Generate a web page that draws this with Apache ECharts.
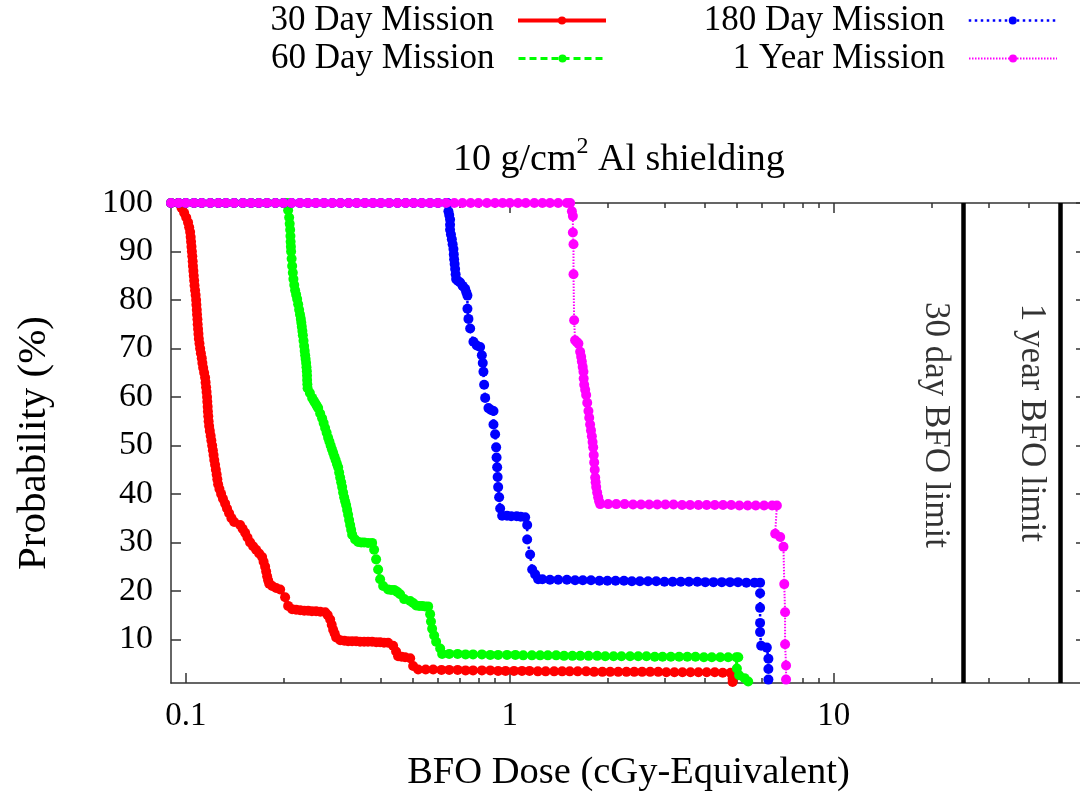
<!DOCTYPE html>
<html><head><meta charset="utf-8">
<script src="https://cdn.jsdelivr.net/npm/echarts@6/dist/echarts.min.js"></script>
<style>html,body{margin:0;padding:0;background:#fff;overflow:hidden}#c{width:1090px;height:797px}</style>
</head><body><div id="c"></div><script>
// ---- data ----
const seriesNames = ['30 Day Mission', '60 Day Mission', '180 Day Mission', '1 Year Mission'];

const day30 = [
[0.09,100],[0.0947,100],[0.097,99],[0.0988,98],[0.1003,97],[0.1016,96],[0.1024,95],[0.1031,94],[0.1035,93],[0.1038,92],[0.1041,91],[0.1044,90],[0.1047,89],[0.105,88],[0.1052,87],[0.1055,86],[0.1058,85],[0.1061,84],[0.1064,83],[0.1068,82],[0.1072,81],[0.1076,80],[0.1078,79],[0.1081,78],[0.1083,77],[0.1086,76],[0.1088,75],[0.1091,74],[0.1094,73],[0.1097,72],[0.1102,71],[0.1107,70],[0.1113,69],[0.112,68],[0.1125,67],[0.1131,66],[0.1139,65],[0.1147,64],[0.1151,63],[0.1155,62],[0.1159,61],[0.1163,60],[0.1165,59],[0.1168,58],[0.117,57],[0.1173,56],[0.1176,55],[0.118,54],[0.1186,53],[0.1193,52],[0.1199,51],[0.1206,50],[0.1212,49],[0.1218,48],[0.1224,47],[0.1231,46],[0.1238,45],[0.1245,44],[0.1251,43],[0.1258,42],[0.127,41],[0.1285,40],[0.1302,39],[0.1322,38],[0.134,37],[0.136,36],[0.1383,35],[0.141,34.2],[0.1471,33.6],[0.1497,32.8],[0.1524,32],[0.155,31],[0.1579,30],[0.1613,29.2],[0.1648,28.5],[0.1684,27.7],[0.172,27],[0.1738,26],[0.1757,25],[0.177,24],[0.1782,23],[0.1795,22.2],[0.1808,21.5],[0.1847,21],[0.19,20.6],[0.1955,20.3],[0.2025,18.7],[0.2069,16.9],[0.2129,16.2],[0.219,16.1],[0.2254,16.0],[0.232,15.9],[0.2385,15.9],[0.245,15.8],[0.2524,15.8],[0.26,15.7],[0.2692,15.6],[0.274,15.0],[0.2789,14.1],[0.282,13],[0.2849,12],[0.288,11.2],[0.2911,10.4],[0.2995,9.8],[0.3085,9.7],[0.3169,9.6],[0.326,9.6],[0.3354,9.6],[0.345,9.5],[0.3551,9.5],[0.365,9.5],[0.3758,9.5],[0.387,9.4],[0.3978,9.4],[0.409,9.3],[0.4211,9.3],[0.4363,8.7],[0.4456,7.5],[0.452,6.5],[0.463,6.4],[0.4751,6.3],[0.4925,6.1],[0.503,4.5],[0.5212,3.8],
[0.55,3.8],[0.58,3.8],[0.615,3.7],[0.65,3.7],[0.69,3.7],[0.73,3.6],[0.77,3.6],[0.82,3.6],[0.87,3.6],[0.92,3.5],[0.97,3.5],[1.03,3.5],[1.09,3.5],[1.15,3.5],[1.22,3.4],[1.29,3.4],[1.37,3.4],[1.45,3.4],[1.53,3.4],[1.62,3.4],[1.72,3.4],[1.82,3.3],[1.93,3.3],[2.04,3.3],[2.16,3.3],[2.29,3.3],[2.42,3.3],[2.56,3.3],[2.71,3.3],[2.87,3.3],[3.04,3.2],[3.22,3.2],[3.41,3.2],[3.61,3.2],[3.82,3.2],[4.05,3.2],[4.29,3.2],[4.54,3.1],[4.8,3.1],[4.93,3.1],[4.87,1.9],[4.87,1.2]
];

const day60 = [
[0.09,100],[0.095,100],[0.1,100],[0.106,100],[0.112,100],[0.119,100],[0.126,100],[0.133,100],[0.141,100],[0.15,100],[0.159,100],[0.168,100],[0.178,100],[0.189,100],[0.2,100],[0.2054,100],[0.2069,98.5],[0.2084,97],[0.2092,95.7],[0.2099,94.5],[0.2103,93.2],[0.2106,92],[0.211,91],[0.2113,90],[0.2121,88.5],[0.2129,87],[0.2139,85.6],[0.2148,84.3],[0.2161,83.1],[0.2174,82],[0.219,81.1],[0.2206,80.2],[0.2222,79.1],[0.2237,78],[0.2251,77],[0.2264,76.1],[0.2272,75.3],[0.228,74.5],[0.2289,73.6],[0.2297,72.7],[0.2308,71.6],[0.2318,70.5],[0.2327,69.5],[0.2335,68.6],[0.2343,67.8],[0.2351,67],[0.2357,66.1],[0.2363,65.3],[0.2366,64.4],[0.2368,63.5],[0.2372,62.6],[0.2376,61.8],[0.2415,60.8],[0.2454,59.8],[0.2483,59.2],[0.251,58.7],[0.2536,58.2],[0.2561,57.7],[0.2598,56.6],[0.2634,55.6],[0.2663,54.6],[0.2691,53.6],[0.272,52.6],[0.2749,51.6],[0.2774,50.8],[0.2799,50],[0.2824,49.2],[0.2849,48.5],[0.2875,47.7],[0.29,47],[0.2926,46.2],[0.2952,45.5],[0.2973,44.4],[0.2994,43.4],[0.3016,42.4],[0.3037,41.4],[0.3058,40.3],[0.308,39.3],[0.3102,38.5],[0.3124,37.7],[0.3147,36.7],[0.3169,35.7],[0.3192,34.6],[0.3215,33.6],[0.3238,32.6],[0.3261,31.6],[0.333,30.6],[0.3403,30.1],[0.3477,30.0],[0.3551,30.0],[0.3653,29.9],[0.3758,29.9],[0.3812,28.5],[0.3866,26.5],[0.3922,24.4],[0.3978,22.4],[0.4064,21],[0.4211,20.3],[0.43,20.2],[0.4394,20.2],[0.449,19.8],[0.4585,19.3],[0.4719,18.3],[0.4925,17.9],[0.503,17.5],[0.5138,17.0],[0.525,16.9],[0.5362,16.9],[0.548,16.8],[0.5596,16.8],[0.5675,15.2],[0.571,13.7],[0.5756,12.2],[0.584,10.8],[0.5922,9.5],[0.6094,8.1],[0.6181,7.0],
[0.65,7.0],[0.69,7.0],[0.73,6.9],[0.77,6.9],[0.82,6.9],[0.87,6.8],[0.92,6.8],[0.98,6.8],[1.04,6.8],[1.1,6.7],[1.17,6.7],[1.24,6.7],[1.31,6.7],[1.39,6.7],[1.47,6.6],[1.56,6.6],[1.65,6.6],[1.75,6.6],[1.86,6.6],[1.97,6.5],[2.09,6.5],[2.21,6.5],[2.35,6.5],[2.49,6.5],[2.64,6.5],[2.8,6.4],[2.96,6.4],[3.14,6.4],[3.33,6.4],[3.53,6.4],[3.74,6.4],[3.97,6.3],[4.2,6.3],[4.46,6.3],[4.72,6.3],[5.0,6.3],[5.07,6.3],[5.02,4.0],[5.1,2.6],[5.3,2.0],[5.44,1.3]
];

const day180 = [
[0.09,100],[0.095,100],[0.1,100],[0.106,100],[0.112,100],[0.119,100],[0.126,100],[0.133,100],[0.141,100],[0.15,100],[0.159,100],[0.168,100],[0.178,100],[0.189,100],[0.2,100],[0.212,100],[0.225,100],[0.238,100],[0.252,100],[0.267,100],[0.283,100],[0.3,100],[0.318,100],[0.337,100],[0.357,100],[0.378,100],[0.4,100],[0.424,100],[0.45,100],[0.477,100],[0.505,100],[0.535,100],[0.567,100],[0.6,100],[0.636,100],[0.642,100],
[0.6463,98.3],[0.65,97.5],[0.6539,96.6],[0.6539,95.5],[0.6539,94.5],[0.658,93.5],[0.6622,92.5],[0.666,91.5],[0.6697,90.5],[0.6714,89.4],[0.6731,88.4],[0.6755,87.4],[0.6779,86.4],[0.6803,85.3],[0.6828,84.3],[0.692,83.9],[0.7024,83.6],[0.715,82.9],[0.7278,82.3],[0.734,81.6],[0.7398,80.9],[0.7398,78.2],[0.7451,76.1],[0.7542,74.1],[0.772,71.4],[0.7905,70.6],[0.8096,70.3],[0.8196,68.6],[0.825,67],[0.8289,65.2],[0.8331,62.5],[0.8391,59.8],[0.859,57.7],[0.875,57.3],[0.8902,57.1],[0.8902,54.3],[0.9007,52.3],[0.9073,49.6],[0.91,47.5],[0.9138,45.5],[0.917,43.5],[0.9203,41.4],[0.9268,39.3],[0.9334,37],[0.9467,35.5],[0.98,35.5],[1.01,35.4],[1.05,35.4],[1.08,35.3],[1.115,35.2],[1.131,33.6],[1.131,30.6],[1.155,27.5],[1.172,24.4],[1.197,23.4],[1.223,22.4],
[1.26,22.4],[1.33,22.3],[1.41,22.3],[1.5,22.3],[1.59,22.2],[1.68,22.2],[1.78,22.2],[1.89,22.1],[2.0,22.1],[2.12,22.1],[2.25,22.1],[2.38,22.0],[2.52,22.0],[2.67,22.0],[2.83,22.0],[3.0,21.9],[3.18,21.9],[3.37,21.9],[3.57,21.9],[3.79,21.9],[4.01,21.8],[4.25,21.8],[4.51,21.8],[4.78,21.8],[5.06,21.8],[5.37,21.7],[5.69,21.7],[5.92,21.7],
[5.92,19.5],[5.92,16.5],[5.92,13.4],[5.92,11.5],[5.965,8.7],[6.21,8.3],[6.28,6.0],[6.28,3.9],[6.28,1.7]
];

const year1 = [
[0.09,100],[0.095,100],[0.1,100],[0.106,100],[0.112,100],[0.119,100],[0.126,100],[0.133,100],[0.141,100],[0.15,100],[0.159,100],[0.168,100],[0.178,100],[0.189,100],[0.2,100],[0.212,100],[0.225,100],[0.238,100],[0.252,100],[0.267,100],[0.283,100],[0.3,100],[0.318,100],[0.337,100],[0.357,100],[0.378,100],[0.4,100],[0.424,100],[0.45,100],[0.477,100],[0.505,100],[0.535,100],[0.567,100],[0.6,100],[0.636,100],[0.674,100],[0.714,100],[0.757,100],[0.8,100],[0.85,100],[0.9,100],[0.95,100],[1.0,100],[1.06,100],[1.12,100],[1.19,100],[1.26,100],[1.33,100],[1.41,100],[1.5,100],[1.535,100],
[1.554,98.3],[1.565,97.3],[1.565,93.9],[1.572,91.5],[1.572,85.3],[1.579,75.8],[1.59,71.7],[1.61,71.3],[1.628,71.0],[1.648,69.3],[1.66,68.3],[1.668,67.3],[1.678,66.2],[1.687,65.2],[1.69,63.8],[1.696,62.5],[1.708,61.5],[1.72,60.4],[1.733,58.8],[1.748,57.1],[1.758,55.7],[1.769,54.3],[1.78,53.1],[1.791,51.9],[1.8,50.7],[1.808,49.6],[1.815,48],[1.821,46.5],[1.828,45],[1.834,43.4],[1.84,42.4],[1.847,41.4],[1.86,40.3],[1.873,39.3],[1.886,38.5],[1.9,37.9],
[2.01,37.9],[2.13,37.9],[2.26,37.9],[2.4,37.8],[2.54,37.8],[2.69,37.8],[2.85,37.8],[3.02,37.8],[3.2,37.8],[3.4,37.7],[3.6,37.7],[3.82,37.7],[4.05,37.7],[4.29,37.7],[4.55,37.7],[4.82,37.7],[5.11,37.6],[5.42,37.6],[5.74,37.6],[6.09,37.6],[6.45,37.6],[6.67,37.6],
[6.59,31.8],[6.83,31.1],[6.99,29.1],[7.03,21.4],[7.07,15.6],[7.07,9.0],[7.12,4.6],[7.12,1.7]
];

const xMajorTicks = [0.1, 1, 10];
const xMinorTicks = [0.2,0.3,0.4,0.5,0.6,0.7,0.8,0.9,2,3,4,5,6,7,8,9,20,30,40,50];
const yTicks = [10,20,30,40,50,60,70,80,90,100];
const limitDoses = [25, 50];
const limitLabels = [[20.5, 79.6, '30 day BFO limit'], [40.5, 79.2, '1 year BFO limit']];

// ---- chart ----
const FONT = 'Liberation Serif';
const AX = '#333';
const chart = echarts.init(document.getElementById('c'));

const logBase = {type: 'log', logBase: 10, min: 0.09, max: 60, splitLine: {show: false}, minorTick: {show: false}, minorSplitLine: {show: false}};
const tickStyle = {color: AX, width: 1.5};
function xAx(pos, major, withLine, extra) {
  return Object.assign({}, logBase, {
    position: pos,
    axisLine: {show: withLine, onZero: false, lineStyle: {color: AX, width: 1.5}},
    axisTick: {show: true, inside: true, length: major ? 10 : 5, customValues: major ? xMajorTicks : xMinorTicks, lineStyle: tickStyle},
    axisLabel: {show: false}
  }, extra || {});
}

const styles = [
  {color: '#ff0000', line: {width: 4, type: 'solid'}},
  {color: '#00ff00', line: {width: 3, type: [7, 4]}},
  {color: '#0000ff', line: {width: 2.5, type: [2.5, 3.5]}},
  {color: '#ff00ff', line: {width: 2, type: [1.5, 1.5]}}
];
const datasets = [day30, day60, day180, year1];

const series = datasets.map((d, i) => ({
  name: seriesNames[i], type: 'line', data: d,
  xAxisIndex: 0, yAxisIndex: 0,
  symbol: 'circle', symbolSize: 10, showSymbol: true, showAllSymbol: true,
  clip: false, silent: true, animation: false,
  itemStyle: {color: styles[i].color},
  lineStyle: Object.assign({color: styles[i].color}, styles[i].line),
  emphasis: {disabled: true}
}));
series[0].markLine = {
  silent: true, animation: false, symbol: ['none', 'none'],
  label: {show: false},
  lineStyle: {color: '#000', width: 4.5, type: 'solid'},
  emphasis: {disabled: true},
  data: limitDoses.map(v => ({xAxis: v}))
};
series.push({
  name: 'limits', type: 'scatter', xAxisIndex: 0, yAxisIndex: 0,
  data: limitLabels.map(l => ({value: [l[0], l[1]], name: l[2]})),
  symbolSize: 0, itemStyle: {color: 'rgba(0,0,0,0)'}, silent: true, clip: false,
  label: {show: true, position: 'inside', formatter: '{b}', rotate: -90, align: 'left', verticalAlign: 'middle',
    fontFamily: FONT, fontSize: 35, color: '#000'}
});

const legends = seriesNames.map((n, i) => ({
  data: [n], right: i < 2 ? 482 : 32, top: (i % 2 === 0) ? 3 : 41,
  align: 'right', orient: 'horizontal', itemWidth: 88, itemHeight: 10, padding: 0,
  selectedMode: false,
  lineStyle: {width: 'inherit', type: 'inherit'},
  textStyle: {fontFamily: FONT, fontSize: 35, color: '#000', padding: [0, 19, 0, 0]}
}));

chart.setOption({
  animation: false,
  backgroundColor: '#fff',
  title: {
    text: '10 g/cm{sup|2} Al shielding', left: 448, top: 130,
    textStyle: {fontFamily: FONT, fontSize: 38, fontWeight: 'normal', color: '#000', lineHeight: 50,
      rich: {sup: {fontFamily: FONT, fontSize: 24, lineHeight: 24, verticalAlign: 'top', color: '#000'}}}
  },
  legend: legends,
  grid: {left: 171, top: 203, width: 915, height: 484, containLabel: false},
  xAxis: [
    xAx('bottom', true, true, {
      axisLabel: {show: true, customValues: xMajorTicks, formatter: v => String(v), fontFamily: FONT, fontSize: 33, color: '#000', margin: 17},
      name: 'BFO Dose (cGy-Equivalent)', nameLocation: 'middle', nameGap: 70,
      nameTextStyle: {fontFamily: FONT, fontSize: 38.5, color: '#000'}
    }),
    xAx('bottom', false, false),
    xAx('top', true, true),
    xAx('top', false, false)
  ],
  yAxis: [
    {type: 'value', min: 1, max: 100, position: 'left', splitLine: {show: false},
     axisLine: {show: true, onZero: false, lineStyle: {color: AX, width: 1.5}},
     axisTick: {show: true, inside: true, length: 10, customValues: yTicks, lineStyle: tickStyle},
     axisLabel: {customValues: yTicks, fontFamily: FONT, fontSize: 34, color: '#000', margin: 18},
     name: 'Probability (%)', nameLocation: 'middle', nameGap: 116, nameRotate: 90,
     nameTextStyle: {fontFamily: FONT, fontSize: 41, color: '#000'}},
    {type: 'value', min: 1, max: 100, position: 'right', splitLine: {show: false},
     axisLine: {show: true, onZero: false, lineStyle: {color: AX, width: 1.5}},
     axisTick: {show: true, inside: true, length: 10, customValues: yTicks, lineStyle: tickStyle},
     axisLabel: {show: false}}
  ],
  series: series
});
</script></body></html>
